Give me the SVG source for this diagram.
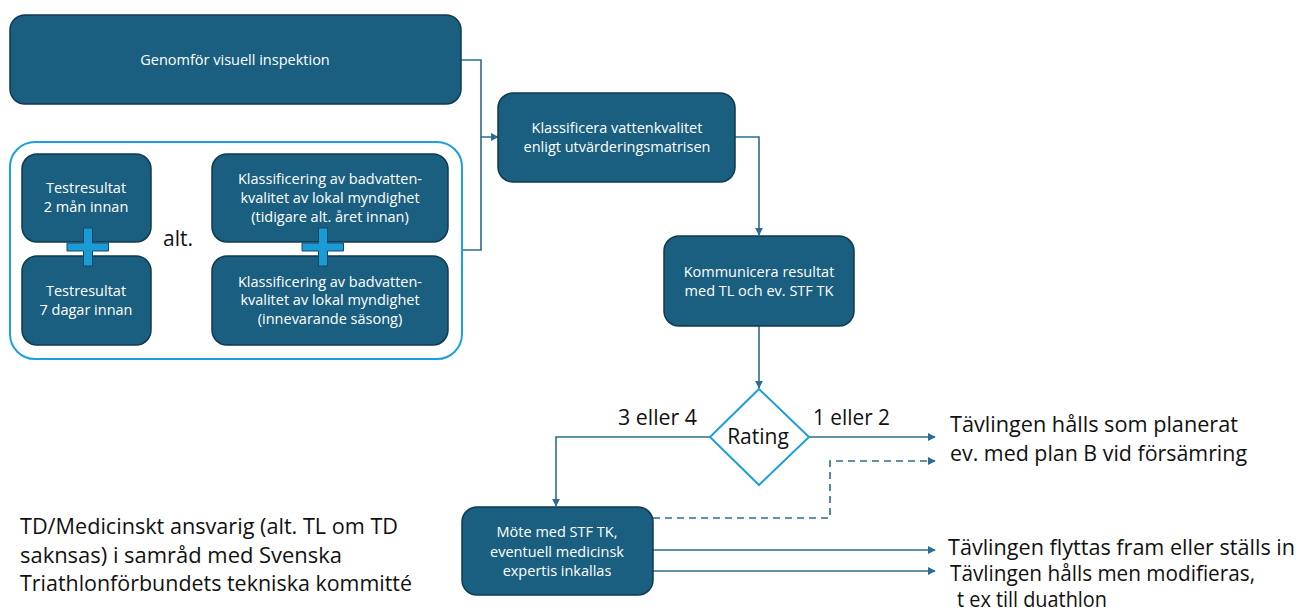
<svg xmlns="http://www.w3.org/2000/svg" width="1298" height="610" viewBox="0 0 1298 610">
<style>
.box{fill:#1a5f80;stroke:#0f3a50;stroke-width:1.5}
.bt{fill:#ffffff;font-family:"Open Sans","Liberation Sans",Arial,sans-serif;font-size:14.5px;text-anchor:middle}
.lbl{fill:#111;font-family:"Open Sans","Liberation Sans",Arial,sans-serif;font-size:21px}
.big{fill:#111;font-family:"Open Sans","Liberation Sans",Arial,sans-serif;font-size:21px}
.con{fill:none;stroke:#2a6d8f;stroke-width:1.6}
.plus{fill:#1b9bd6;stroke:#124a66;stroke-width:1}
</style>
<defs>
<marker id="arrs" viewBox="0 0 10 10" refX="9" refY="5" markerWidth="8" markerHeight="8" orient="auto" markerUnits="userSpaceOnUse">
<path d="M0,0 L10,5 L0,10 z" fill="#2a6d8f"/>
</marker>
</defs>

<g id="connectors">
<polyline class="con" points="461,60 481,60 481,137 498,137" marker-end="url(#arrs)"/>
<polyline class="con" points="461,250 481,250 481,137"/>
<polyline class="con" points="735,137 759,137 759,235" marker-end="url(#arrs)"/>
<polyline class="con" points="759,326 759,388" marker-end="url(#arrs)"/>
<polyline class="con" points="809,437 935,437" marker-end="url(#arrs)"/>
<polyline class="con" points="710,437 556,437 556,506" marker-end="url(#arrs)"/>
<polyline class="con" points="653,518 830,518 830,461 935,461" stroke-dasharray="7,5" marker-end="url(#arrs)"/>
<polyline class="con" points="653,550 935,550" marker-end="url(#arrs)"/>
<polyline class="con" points="653,571 935,571" marker-end="url(#arrs)"/>
</g>

<g id="n-inspektion">
<rect class="box" x="10" y="15" width="451" height="89" rx="15"/>
<text class="bt" x="235" y="65">Genomför visuell inspektion</text>
</g>

<g id="n-container">
<rect x="10" y="142" width="452" height="217" rx="25" fill="none" stroke="#1ca0dc" stroke-width="2"/>
</g>

<g id="n-test2man">
<rect class="box" x="22" y="154" width="129" height="88" rx="15"/>
<text class="bt" x="86" y="193">Testresultat</text>
<text class="bt" x="86" y="212">2 mån innan</text>
</g>
<g id="n-test7dag">
<rect class="box" x="22" y="256" width="129" height="89" rx="15"/>
<text class="bt" x="86" y="296">Testresultat</text>
<text class="bt" x="86" y="315">7 dagar innan</text>
</g>
<g id="n-klass1">
<rect class="box" x="212" y="154" width="236" height="88" rx="15"/>
<text class="bt" x="330" y="184">Klassificering av badvatten-</text>
<text class="bt" x="330" y="203">kvalitet av lokal myndighet</text>
<text class="bt" x="330" y="222">(tidigare alt. året innan)</text>
</g>
<g id="n-klass2">
<rect class="box" x="212" y="256" width="236" height="89" rx="15"/>
<text class="bt" x="330" y="287">Klassificering av badvatten-</text>
<text class="bt" x="330" y="305">kvalitet av lokal myndighet</text>
<text class="bt" x="330" y="324">(innevarande säsong)</text>
</g>
<g id="n-plus1">
<path class="plus" d="M83.5,228 h9 v15 h16 v8 h-16 v15 h-9 v-15 h-16.5 v-8 h16.5 z"/>
</g>
<g id="n-plus2">
<path class="plus" d="M318.5,228 h9 v15 h16 v8 h-16 v15 h-9 v-15 h-16.5 v-8 h16.5 z"/>
</g>
<g id="n-alt">
<text class="big" x="163" y="246">alt.</text>
</g>

<g id="n-klassificera">
<rect class="box" x="498" y="93" width="237" height="89" rx="15"/>
<text class="bt" x="617" y="133">Klassificera vattenkvalitet</text>
<text class="bt" x="617" y="152">enligt utvärderingsmatrisen</text>
</g>

<g id="n-kommunicera">
<rect class="box" x="664" y="236" width="190" height="90" rx="15"/>
<text class="bt" x="759" y="277">Kommunicera resultat</text>
<text class="bt" x="759" y="296">med TL och ev. STF TK</text>
</g>

<g id="n-rating">
<polygon points="759,389 809,437 759,485 710,437" fill="#ffffff" stroke="#1ca0dc" stroke-width="2"/>
<text class="big" x="758" y="444" text-anchor="middle">Rating</text>
</g>

<g id="n-labels">
<text class="lbl" x="618" y="425" textLength="79" lengthAdjust="spacingAndGlyphs">3 eller 4</text>
<text class="lbl" x="813" y="425" textLength="77" lengthAdjust="spacingAndGlyphs">1 eller 2</text>
</g>

<g id="n-mote">
<rect class="box" x="462" y="507" width="191" height="88" rx="15"/>
<text class="bt" x="557" y="537">Möte med STF TK,</text>
<text class="bt" x="557" y="557">eventuell medicinsk</text>
<text class="bt" x="557" y="576">expertis inkallas</text>
</g>

<g id="n-out1">
<text class="big" x="950" y="432" textLength="288" lengthAdjust="spacingAndGlyphs">Tävlingen hålls som planerat</text>
<text class="big" x="950" y="461" textLength="297" lengthAdjust="spacingAndGlyphs">ev. med plan B vid försämring</text>
</g>
<g id="n-out2">
<text class="big" x="948" y="555" textLength="347" lengthAdjust="spacingAndGlyphs">Tävlingen flyttas fram eller ställs in</text>
</g>
<g id="n-out3">
<text class="big" x="950" y="581" textLength="305" lengthAdjust="spacingAndGlyphs">Tävlingen hålls men modifieras,</text>
<text class="big" x="957" y="607" textLength="150" lengthAdjust="spacingAndGlyphs">t ex till duathlon</text>
</g>

<g id="n-note">
<text class="big" x="20" y="534" textLength="378" lengthAdjust="spacingAndGlyphs">TD/Medicinskt ansvarig (alt. TL om TD</text>
<text class="big" x="20" y="563" textLength="322" lengthAdjust="spacingAndGlyphs">saknsas) i samråd med Svenska</text>
<text class="big" x="20" y="591" textLength="392" lengthAdjust="spacingAndGlyphs">Triathlonförbundets tekniska kommitté</text>
</g>
</svg>
